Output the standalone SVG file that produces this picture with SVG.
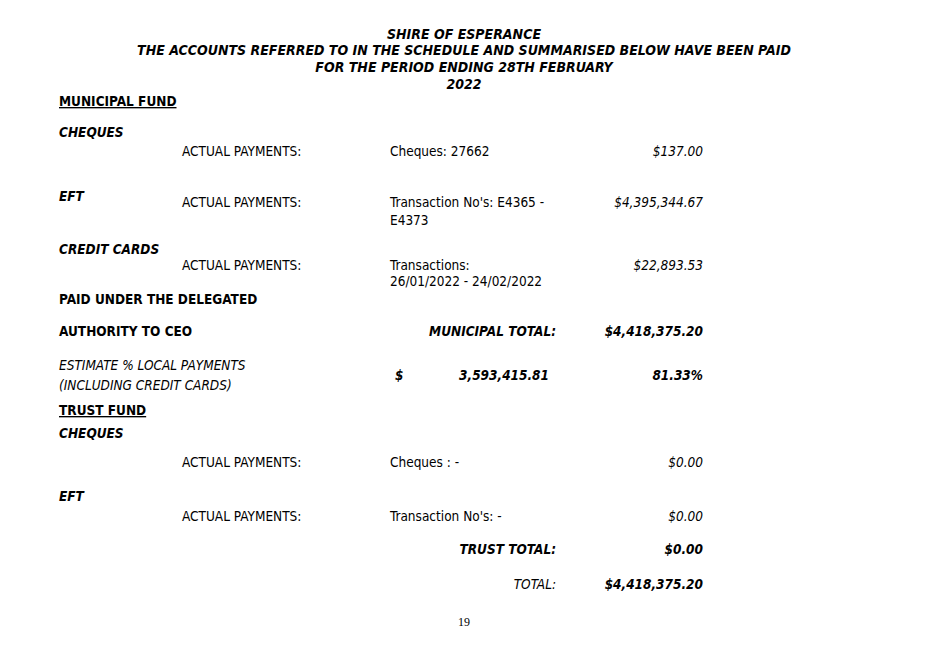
<svg xmlns="http://www.w3.org/2000/svg" width="928" height="656" viewBox="0 0 928 656">
<style>
text{font-family:"DejaVu Sans Condensed","DejaVu Sans",sans-serif;font-size:13.5px;fill:#000}
.h{font-weight:bold;font-style:italic;font-size:14px}
.b{font-weight:bold}
.bi{font-weight:bold;font-style:italic}
.i{font-style:italic}
.r{text-anchor:end}
.c{text-anchor:middle}
.u{text-decoration:underline}
</style>
<rect width="928" height="656" fill="#fff"/>
<text class="h c" x="464" y="39">SHIRE OF ESPERANCE</text>
<text class="h c" x="464" y="55">THE ACCOUNTS REFERRED TO IN THE SCHEDULE AND SUMMARISED BELOW HAVE BEEN PAID</text>
<text class="h c" x="464" y="72">FOR THE PERIOD ENDING 28TH FEBRUARY</text>
<text class="h c" x="464" y="89">2022</text>
<text class="b u" x="59" y="106">MUNICIPAL FUND</text>
<text class="bi" x="59" y="137">CHEQUES</text>
<text x="182" y="156">ACTUAL PAYMENTS:</text>
<text x="390" y="156">Cheques:  27662</text>
<text class="i r" x="703" y="156">$137.00</text>
<text class="bi" x="59" y="201">EFT</text>
<text x="182" y="207">ACTUAL PAYMENTS:</text>
<text x="390" y="207">Transaction No's:  E4365 -</text>
<text x="390" y="225">E4373</text>
<text class="i r" x="703" y="207">$4,395,344.67</text>
<text class="bi" x="59" y="254">CREDIT CARDS</text>
<text x="182" y="270">ACTUAL PAYMENTS:</text>
<text x="390" y="270">Transactions:</text>
<text x="390" y="286">26/01/2022 - 24/02/2022</text>
<text class="i r" x="703" y="270">$22,893.53</text>
<text class="b" x="59" y="304">PAID UNDER THE DELEGATED</text>
<text class="b" x="59" y="336">AUTHORITY TO CEO</text>
<text class="bi r" x="556" y="336">MUNICIPAL TOTAL:</text>
<text class="bi r" x="703" y="336">$4,418,375.20</text>
<text class="i" x="59" y="370">ESTIMATE % LOCAL PAYMENTS</text>
<text class="i" x="59" y="390">(INCLUDING CREDIT CARDS)</text>
<text class="bi" x="395" y="380">$</text>
<text class="bi r" x="549" y="380">3,593,415.81</text>
<text class="bi r" x="703" y="380">81.33%</text>
<text class="b u" x="59" y="415">TRUST FUND</text>
<text class="bi" x="59" y="438">CHEQUES</text>
<text x="182" y="467">ACTUAL PAYMENTS:</text>
<text x="390" y="467">Cheques : -</text>
<text class="i r" x="703" y="467">$0.00</text>
<text class="bi" x="59" y="501">EFT</text>
<text x="182" y="521">ACTUAL PAYMENTS:</text>
<text x="390" y="521">Transaction No's: -</text>
<text class="i r" x="703" y="521">$0.00</text>
<text class="bi r" x="556" y="554">TRUST TOTAL:</text>
<text class="bi r" x="703" y="554">$0.00</text>
<text class="i r" x="556" y="589">TOTAL:</text>
<text class="bi r" x="703" y="589">$4,418,375.20</text>
<text class="c" x="464" y="626" style="font-family:'Liberation Serif',serif;font-size:12px">19</text>
</svg>
